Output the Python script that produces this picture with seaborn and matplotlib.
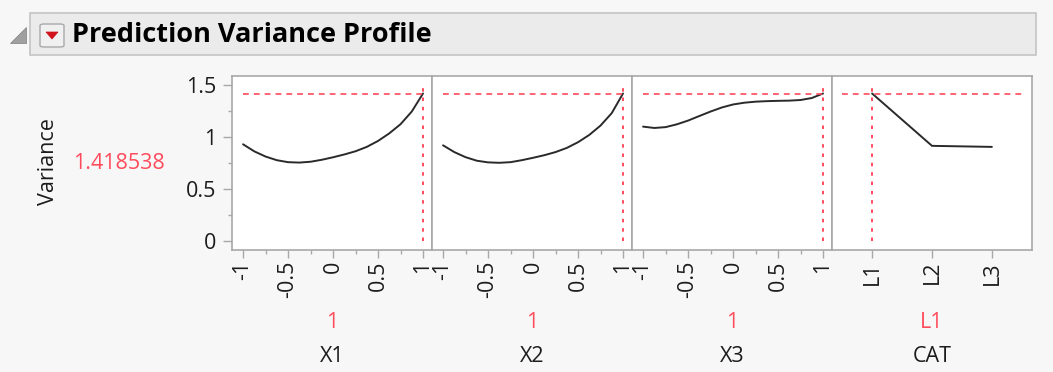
import numpy as np
import pandas as pd
import matplotlib
matplotlib.use("Agg")
import matplotlib.pyplot as plt
from matplotlib.patches import Rectangle, FancyBboxPatch, Polygon
from matplotlib.ticker import MultipleLocator, FixedLocator
import seaborn as sns

# ---------------- data ----------------
x_grid = [-1, -0.875, -0.75, -0.625, -0.5, -0.375, -0.25, -0.125, 0,
          0.125, 0.25, 0.375, 0.5, 0.625, 0.75, 0.875, 1]
x1_var = [0.93, 0.862, 0.812, 0.777, 0.758, 0.754, 0.762, 0.781, 0.805,
          0.832, 0.863, 0.905, 0.962, 1.035, 1.123, 1.245, 1.418538]
x2_var = [0.92, 0.855, 0.806, 0.772, 0.756, 0.752, 0.758, 0.777, 0.80,
          0.825, 0.855, 0.895, 0.95, 1.02, 1.11, 1.23, 1.418538]
x3_var = [1.10, 1.087, 1.095, 1.122, 1.158, 1.202, 1.245, 1.284, 1.313,
          1.33, 1.34, 1.345, 1.348, 1.35, 1.356, 1.375, 1.418538]
cat_levels = ["L1", "L2", "L3"]
cat_var = [1.418538, 0.915, 0.905]

factor_names = ["X1", "X2", "X3", "CAT"]
current_settings = ["1", "1", "1", "L1"]
current_x = [1, 1, 1, 0]
current_variance = 1.418538
variance_label = "1.418538"
y_ticks = [0, 0.5, 1, 1.5]
x_ticks = [-1, -0.5, 0, 0.5, 1]
x_tick_labels = ["-1", "-0.5", "0", "0.5", "1"]

# ---------------- styling ----------------
sns.set_theme(style="white")
plt.rcParams["font.family"] = ["Open Sans", "DejaVu Sans"]

W, H = 1053, 372
BG = "#f7f7f7"
RED = "#ff4b5c"
TXT = "#1c1c1c"
SPINE = "#a8a8a8"

fig = plt.figure(figsize=(W / 100, H / 100), dpi=100, facecolor=BG)

def fx(px):
    return px / W

def fy(py):
    return 1 - py / H

# title bar
fig.patches.append(Rectangle((fx(30), fy(55)), fx(1036) - fx(30), fy(13) - fy(55),
                             transform=fig.transFigure, facecolor="#ebebeb",
                             edgecolor="#c4c4c4", linewidth=1.2, zorder=0))
# disclosure triangle
fig.patches.append(Polygon([(fx(10), fy(43)), (fx(26), fy(43)), (fx(26), fy(27))],
                           closed=True, transform=fig.transFigure,
                           facecolor="#a0a0a0", edgecolor="#8a8a8a", linewidth=0.6))
# red menu button
fig.patches.append(FancyBboxPatch((fx(40), fy(47)), fx(64) - fx(40), fy(24) - fy(47),
                                  boxstyle="round,pad=0,rounding_size=0.004",
                                  transform=fig.transFigure, facecolor="#f0f0f0",
                                  edgecolor="#a8a8a8", linewidth=1.0))
fig.patches.append(Polygon([(fx(46), fy(32)), (fx(58), fy(32)), (fx(52), fy(39))],
                           closed=True, transform=fig.transFigure,
                           facecolor="#d0121b", edgecolor="#d0121b", linewidth=0.5))
fig.text(fx(72), fy(35), "Prediction Variance Profile", fontsize=19.5,
         fontweight="bold", color="#000000", ha="left", va="center")

# y labels
fig.text(fx(49), fy(162), "Variance", rotation=90, fontsize=15.5, color=TXT,
         ha="center", va="center")
fig.text(fx(119), fy(163), variance_label, fontsize=15.5, color=RED,
         ha="center", va="center")

x_series = [x1_var, x2_var, x3_var]
left0, pw, top, bottom = 232, 200, 76, 250

for i in range(4):
    ax = fig.add_axes([fx(left0 + pw * i), fy(bottom), fx(pw), (bottom - top) / H])
    ax.set_facecolor("white")
    if i < 3:
        df = pd.DataFrame({"x": x_grid, "v": x_series[i]})
        sns.lineplot(data=df, x="x", y="v", ax=ax, color="#2a2a2a", linewidth=1.4,
                     estimator=None, sort=True)
        ax.set_xlim(-1.123, 1.10)
        ax.hlines(current_variance, -1, 1, colors=RED, linestyles=(0, (3.5, 3)),
                  linewidth=1.2, zorder=3)
        ax.vlines(current_x[i], 0, 1.5, colors=RED, linestyles=(0, (1.8, 3)),
                  linewidth=1.4, zorder=3)
        ax.xaxis.set_major_locator(FixedLocator(x_ticks))
        ax.set_xticklabels(x_tick_labels)
        ax.xaxis.set_minor_locator(MultipleLocator(0.25))
    else:
        df = pd.DataFrame({"cat": cat_levels, "v": cat_var})
        sns.lineplot(data=df, x="cat", y="v", ax=ax, color="#2a2a2a", linewidth=1.4,
                     estimator=None, sort=False)
        ax.set_xlim(-0.67, 2.67)
        ax.hlines(current_variance, -0.5, 2.5, colors=RED, linestyles=(0, (3.5, 3)),
                  linewidth=1.2, zorder=3)
        ax.vlines(current_x[i], 0, 1.5, colors=RED, linestyles=(0, (1.8, 3)),
                  linewidth=1.4, zorder=3)
    ax.set_ylim(-0.087, 1.587)
    ax.set_xlabel("")
    ax.set_ylabel("")
    for s in ax.spines.values():
        s.set_color(SPINE)
        s.set_linewidth(1.2)
        s.set_visible(True)
    ax.tick_params(axis="x", which="major", bottom=True, length=6, width=1,
                   color=SPINE, labelrotation=90, labelsize=15.5, labelcolor=TXT, pad=2)
    ax.tick_params(axis="x", which="minor", bottom=True, length=3, width=1, color=SPINE)
    if i == 0:
        ax.yaxis.set_major_locator(FixedLocator(y_ticks))
        ax.set_yticklabels(["0", "0.5", "1", "1.5"])
        ax.yaxis.set_minor_locator(MultipleLocator(0.25))
        ax.tick_params(axis="y", which="major", left=True, length=6.5, width=1,
                       color=SPINE, labelsize=15.5, labelcolor=TXT, pad=5)
        ax.tick_params(axis="y", which="minor", left=True, length=3, width=1, color=SPINE)
    else:
        ax.set_yticks([])
    cx = fx(left0 + pw * i + pw / 2)
    fig.text(cx, fy(323), current_settings[i], fontsize=15.5, color=RED,
             ha="center", va="center")
    fig.text(cx, fy(356), factor_names[i], fontsize=15.5, color=TXT,
             ha="center", va="center")

fig.savefig("out.png", dpi=100, facecolor=BG)
